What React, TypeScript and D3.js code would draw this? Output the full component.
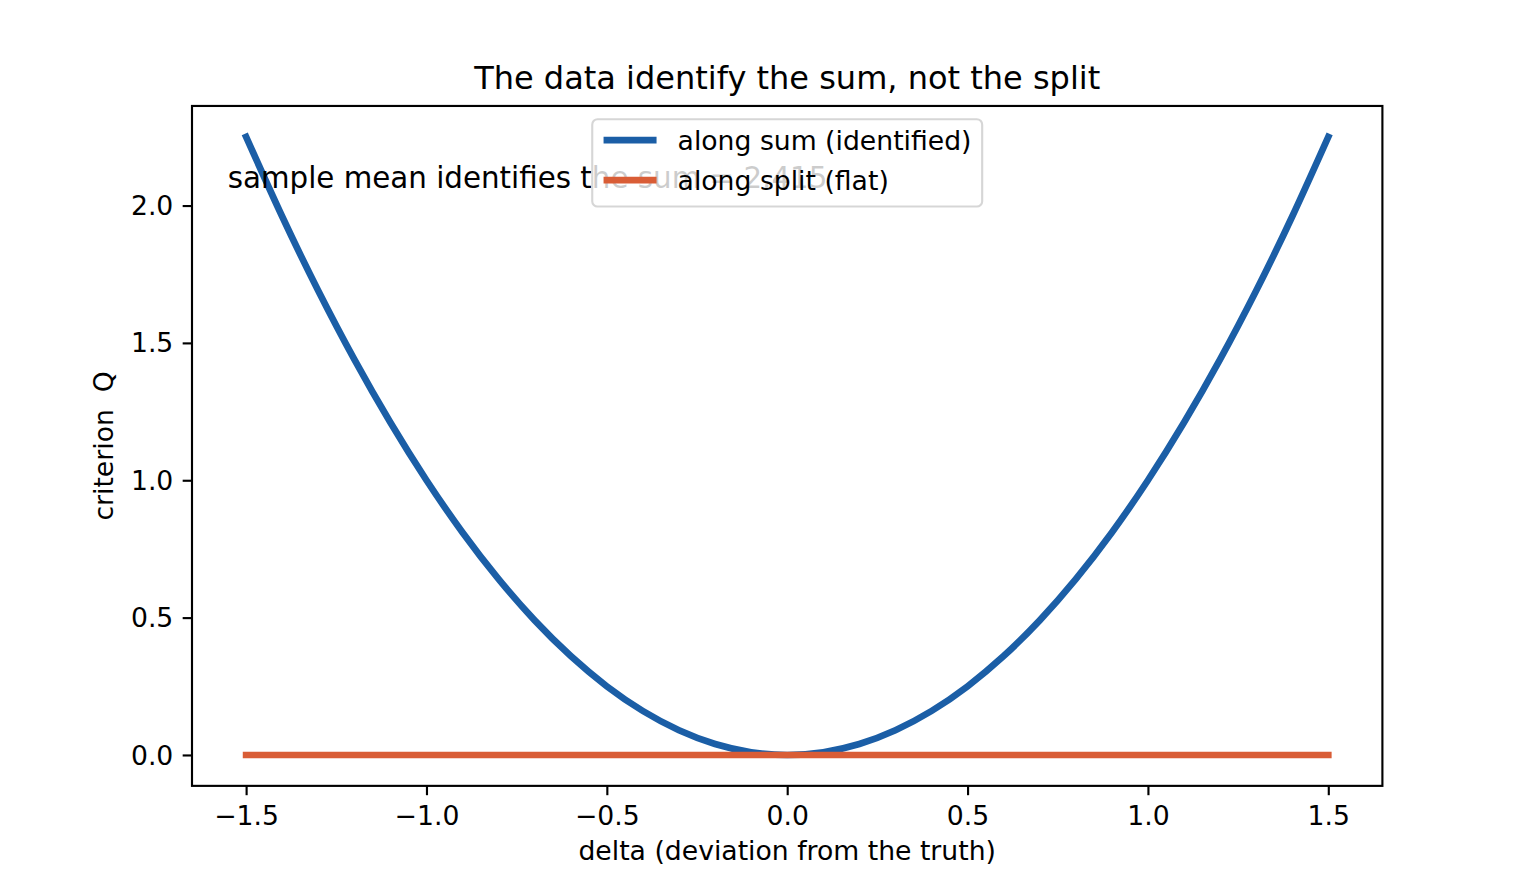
import * as d3 from "d3";
import React, { useEffect, useRef } from "react";

// readings
const deltaValues = [
  -1.5, -1.4, -1.3, -1.2, -1.1, -1.0, -0.9, -0.8, -0.7, -0.6, -0.5, -0.4, -0.3,
  -0.2, -0.1, 0.0, 0.1, 0.2, 0.3, 0.4, 0.5, 0.6, 0.7, 0.8, 0.9, 1.0, 1.1, 1.2,
  1.3, 1.4, 1.5,
];
const alongSum = [
  2.25, 1.96, 1.69, 1.44, 1.21, 1.0, 0.81, 0.64, 0.49, 0.36, 0.25, 0.16, 0.09,
  0.04, 0.01, 0.0, 0.01, 0.04, 0.09, 0.16, 0.25, 0.36, 0.49, 0.64, 0.81, 1.0,
  1.21, 1.44, 1.69, 1.96, 2.25,
];
const alongSplit = [
  0, 0, 0, 0, 0, 0, 0, 0, 0, 0, 0, 0, 0, 0, 0, 0, 0, 0, 0, 0, 0, 0, 0, 0, 0, 0,
  0, 0, 0, 0, 0,
];
const xTicks = [-1.5, -1.0, -0.5, 0.0, 0.5, 1.0, 1.5];
const yTicks = [0.0, 0.5, 1.0, 1.5, 2.0];
const seriesNames = ["along sum (identified)", "along split (flat)"];
const seriesColors = ["#1b5ea6", "#d95d36"];
const titleText = "The data identify the sum, not the split";
const noteText = "sample mean identifies the sum = 2.415";
const xLabel = "delta (deviation from the truth)";
const yLabel = "criterion  Q";

const W = 1536;
const H = 883;
const PT = 192 / 72; // px per point

const App: React.FC = () => {
  const ref = useRef<SVGSVGElement>(null);

  useEffect(() => {
    if (!ref.current) return;
    const svg = d3.select(ref.current);
    svg.selectAll("*").remove();

    const left = 0.125 * W;
    const right = 0.9 * W;
    const top = 0.12 * H;
    const bottom = 0.89 * H;
    const font = "DejaVu Sans";
    const tickFs = 10 * PT;

    const x = d3.scaleLinear().domain([-1.65, 1.65]).range([left, right]);
    const yMax = d3.max(alongSum) as number;
    const pad = yMax * 0.05;
    const y = d3.scaleLinear().domain([-pad, yMax + pad]).range([bottom, top]);

    const line = d3
      .line<number>()
      .x((_, i) => x(deltaValues[i]))
      .curve(d3.curveNatural);

    [alongSum, alongSplit].forEach((vals, k) => {
      svg
        .append("path")
        .datum(vals)
        .attr("d", line.y((d) => y(d)))
        .attr("fill", "none")
        .attr("stroke", seriesColors[k])
        .attr("stroke-width", 2.5 * PT)
        .attr("stroke-linecap", "square")
        .attr("stroke-linejoin", "round");
    });

    // axes
    const xAxis = svg
      .append("g")
      .attr("transform", `translate(0,${bottom})`)
      .call(
        d3
          .axisBottom(x)
          .tickValues(xTicks)
          .tickFormat(d3.format(".1f"))
          .tickSize(3.5 * PT)
          .tickPadding(3.5 * PT)
      );
    const yAxis = svg
      .append("g")
      .attr("transform", `translate(${left},0)`)
      .call(
        d3
          .axisLeft(y)
          .tickValues(yTicks)
          .tickFormat(d3.format(".1f"))
          .tickSize(3.5 * PT)
          .tickPadding(3.5 * PT)
      );
    [xAxis, yAxis].forEach((g) => {
      g.select(".domain").remove();
      g.selectAll("line").attr("stroke", "#000").attr("stroke-width", 0.8 * PT);
      g.selectAll("text")
        .attr("fill", "#000")
        .style("font-family", font)
        .style("font-size", `${tickFs}px`);
    });
    xAxis.selectAll("text").attr("dy", "0.76em");
    yAxis.selectAll("text").attr("dy", "0.34em");

    // note text
    svg
      .append("text")
      .attr("x", left + 0.03 * (right - left))
      .attr("y", bottom - 0.88 * (bottom - top))
      .style("font-family", font)
      .style("font-size", `${11 * PT}px`)
      .attr("fill", "#000")
      .text(noteText);

    // spines
    svg
      .append("rect")
      .attr("x", left)
      .attr("y", top)
      .attr("width", right - left)
      .attr("height", bottom - top)
      .attr("fill", "none")
      .attr("stroke", "#000")
      .attr("stroke-width", 0.8 * PT);

    // legend
    const lg = svg.append("g");
    const box = lg.append("rect");
    const texts = seriesNames.map((name) =>
      lg
        .append("text")
        .style("font-family", font)
        .style("font-size", `${tickFs}px`)
        .attr("fill", "#000")
        .text(name)
    );
    const textW = d3.max(texts, (t) => (t.node() as SVGTextElement).getComputedTextLength()) as number;
    const borderPad = 0.4 * tickFs;
    const handleLen = 2.0 * tickFs;
    const handlePad = 0.8 * tickFs;
    const rowStep = 1.5 * tickFs;
    const boxW = 2 * borderPad + handleLen + handlePad + textW;
    const boxH = 3.27 * tickFs;
    const bx = (left + right) / 2 - boxW / 2;
    const by = top + 0.5 * tickFs;
    box
      .attr("x", bx)
      .attr("y", by)
      .attr("width", boxW)
      .attr("height", boxH)
      .attr("rx", 0.2 * tickFs)
      .attr("fill", "#fff")
      .attr("fill-opacity", 0.8)
      .attr("stroke", "#cccccc")
      .attr("stroke-opacity", 0.8)
      .attr("stroke-width", 0.8 * PT);
    seriesNames.forEach((_, k) => {
      const cy = by + 0.78 * tickFs + k * rowStep;
      lg.insert("line", "text")
        .attr("x1", bx + borderPad + 4)
        .attr("x2", bx + borderPad + handleLen - 3)
        .attr("y1", cy)
        .attr("y2", cy)
        .attr("stroke", seriesColors[k])
        .attr("stroke-width", 2.5 * PT)
        .attr("stroke-linecap", "square");
      texts[k]
        .attr("x", bx + borderPad + handleLen + handlePad)
        .attr("y", cy + 0.38 * tickFs);
    });

    // title and labels
    svg
      .append("text")
      .attr("x", (left + right) / 2)
      .attr("y", 89)
      .attr("text-anchor", "middle")
      .style("font-family", font)
      .style("font-size", `${12 * PT}px`)
      .text(titleText);
    svg
      .append("text")
      .attr("x", (left + right) / 2)
      .attr("y", 860)
      .attr("text-anchor", "middle")
      .style("font-family", font)
      .style("font-size", `${tickFs}px`)
      .text(xLabel);
    svg
      .append("text")
      .attr("transform", `translate(113,${(top + bottom) / 2}) rotate(-90)`)
      .attr("text-anchor", "middle")
      .style("font-family", font)
      .style("font-size", `${tickFs}px`)
      .style("white-space", "pre")
      .text(yLabel);
  }, []);

  return (
    <div style={{ position: "absolute", left: 0, top: 0, background: "#fff" }}>
      <svg ref={ref} width={W} height={H} style={{ display: "block" }} />
    </div>
  );
};

export default App;
